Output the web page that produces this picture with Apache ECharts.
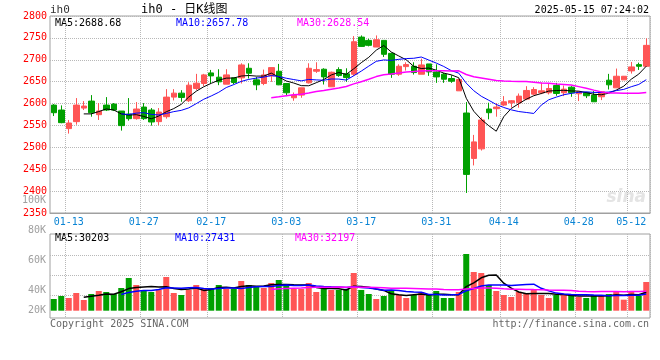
<!DOCTYPE html>
<html><head><meta charset="utf-8">
<script src="https://cdn.jsdelivr.net/npm/echarts@6/dist/echarts.min.js"></script>
<style>html,body{margin:0;padding:0;background:#fff}#c{width:660px;height:360px}</style>
</head><body><div id="c"></div>
<script>
const dates = ['01-09','01-10','01-13','01-14','01-15','01-16','01-17','01-20','01-21','01-22','01-23','01-24','01-27',
'02-05','02-06','02-07','02-10','02-11','02-12','02-13','02-14','02-17','02-18','02-19','02-20','02-21','02-24','02-25','02-26','02-27','02-28',
'03-03','03-04','03-05','03-06','03-07','03-10','03-11','03-12','03-13','03-14','03-17','03-18','03-19','03-20','03-21','03-24','03-25','03-26','03-27','03-28','03-31',
'04-01','04-02','04-03','04-07','04-08','04-09','04-10','04-11','04-14','04-15','04-16','04-17','04-18','04-21','04-22','04-23','04-24','04-25','04-28','04-29','04-30',
'05-06','05-07','05-08','05-09','05-12','05-13','05-14'];
const opens = [2596.5,2585.2,2542.8,2558.7,2589.7,2605.6,2574.6,2596.5,2598.8,2582.9,2576.1,2565.5,2592.0,
2585.2,2558.7,2570.0,2614.7,2623.8,2606.4,2634.4,2645.8,2670.0,2660.2,2644.3,2658.7,2658.7,2680.6,2654.1,2645.8,2663.2,2673.8,
2645.8,2613.2,2619.3,2647.3,2673.8,2678.4,2638.2,2677.6,2667.8,2667.0,2751.8,2744.3,2729.1,2744.3,2714.7,2667.0,2684.4,2685.2,2667.0,2690.5,2672.3,
2667.0,2657.2,2629.1,2578.4,2474.6,2496.5,2587.5,2588.2,2596.5,2601.9,2601.9,2610.2,2621.5,2624.6,2624.6,2641.2,2624.6,2637.4,2622.3,2625.3,2619.3,
2615.5,2653.4,2635.9,2654.1,2674.6,2688.9,2685.2];
const highs = [2598.8,2595.8,2562.5,2612.5,2605.6,2619.3,2601.0,2614.7,2601.1,2582.9,2612.5,2603.4,2601.0,
2589.7,2589.7,2632.9,2632.9,2630.6,2648.8,2667.8,2667.8,2676.8,2678.4,2678.4,2659.0,2692.0,2692.0,2660.9,2677.6,2682.1,2690.6,
2645.8,2625.3,2635.9,2692.0,2694.3,2680.6,2673.0,2682.9,2680.6,2754.1,2755.6,2748.0,2755.6,2744.3,2716.2,2689.7,2694.3,2694.3,2702.6,2690.5,2689.7,
2670.0,2664.7,2657.2,2603.4,2528.4,2568.5,2601.9,2601.1,2617.0,2608.0,2623.0,2639.7,2637.4,2648.0,2645.8,2647.3,2641.2,2639.7,2627.6,2626.8,2628.4,
2628.4,2667.8,2679.9,2663.0,2695.0,2693.5,2748.8];
const lows = [2571.5,2555.0,2531.4,2551.8,2585.2,2570.0,2562.5,2582.9,2582.9,2538.2,2561.0,2563.2,2562.5,
2549.6,2550.3,2565.5,2607.1,2604.1,2603.4,2630.6,2640.0,2645.8,2642.0,2644.3,2644.0,2645.8,2657.2,2630.6,2642.0,2649.6,2642.0,
2617.0,2606.4,2613.2,2645.8,2670.0,2643.5,2638.2,2661.0,2649.6,2663.0,2730.0,2730.6,2729.1,2706.4,2658.7,2663.2,2675.3,2666.2,2667.0,2663.2,2647.3,
2647.3,2647.3,2629.1,2395.8,2458.7,2492.7,2564.0,2570.0,2594.3,2591.0,2590.5,2607.9,2619.3,2621.5,2620.8,2617.8,2617.0,2615.5,2605.6,2612.5,2604.1,
2607.9,2632.1,2635.9,2654.0,2668.5,2676.8,2683.7];
const closes = [2579.1,2556.4,2555.6,2596.5,2594.3,2579.1,2582.9,2585.2,2585.2,2549.6,2565.5,2587.5,2565.5,
2557.9,2580.6,2614.7,2623.8,2614.0,2642.0,2646.5,2665.5,2663.2,2649.6,2665.5,2648.0,2688.2,2669.3,2642.8,2665.5,2682.1,2642.8,
2624.6,2619.3,2635.9,2680.6,2677.6,2660.9,2671.5,2664.0,2659.4,2741.2,2730.6,2733.0,2745.8,2712.5,2667.0,2685.2,2689.0,2670.8,2688.2,2672.3,2660.9,
2655.6,2651.1,2654.9,2438.2,2512.4,2562.5,2579.1,2592.0,2604.0,2606.4,2617.0,2629.9,2632.1,2629.1,2634.4,2623.1,2632.9,2624.6,2626.8,2617.8,2604.1,
2626.8,2642.8,2662.4,2662.4,2683.7,2685.2,2732.9];
const volumes = [19250,24180,20890,29120,17600,27470,32410,30760,27470,37340,53790,42280,34050,
30760,34050,55440,29120,25830,34050,42280,35700,37340,42280,35700,35700,48860,42280,38990,37340,45570,50500,
43920,35700,35700,45570,30760,35700,34050,34050,35700,62020,34050,27470,19250,24180,34050,25830,20890,25830,30760,25830,32410,
20890,20890,30760,93270,63660,62020,42280,32410,25830,22540,30760,27470,35700,25830,20890,25830,25830,25830,22540,20890,25830,
25830,27470,30760,18100,30760,24680,47210];
const xTickLabels = ['01-13','01-27','02-17','03-03','03-17','03-31','04-14','04-28','05-12'];
const priceTickLabels = [2350,2400,2450,2500,2550,2600,2650,2700,2750,2800];
const volTickLabels = ['20K','40K','60K','80K','100K'];
const maPeriods = [5,10,30];
const priceMaTexts = ['MA5:2688.68','MA10:2657.78','MA30:2628.54'];
const volMaTexts = ['MA5:30203','MA10:27431','MA30:32197'];
const headerTexts = ['ih0','ih0 - 日K线图','2025-05-15 07:24:02'];
const footerTexts = ['Copyright 2025 SINA.COM','http://finance.sina.com.cn'];

const UP = '#ff5555', DOWN = '#00a000';
const MA_COLORS = ['#000000','#0000ff','#ff00ff'];
const MONO = '"DejaVu Sans Mono", "Noto Sans CJK SC", monospace';
const GRIDC = '#b8b8b8';

function movingAvg(arr, n){
  return arr.map((v,i)=>{
    if(i < n-1) return null;
    let s = 0; for(let k=i-n+1;k<=i;k++) s += arr[k];
    return +(s/n).toFixed(2);
  });
}
const isLabel = (idx, val) => xTickLabels.indexOf(val) >= 0;
const dotted = {show:true, interval:isLabel, lineStyle:{color:GRIDC, type:'dotted', width:1}};

const L = 50, W = 600;
const chart = echarts.init(document.getElementById('c'), null, {renderer:'canvas'});

const volPx = 1645; // volume units per pixel
const volMin = -4.6*volPx, volStep = 20*volPx;

const option = {
  animation:false,
  backgroundColor:'#fff',
  grid:[
    {left:L, width:W, top:16, height:197, show:true, borderColor:'#a0a0a0', borderWidth:1, outerBoundsMode:'none'},
    {left:L, width:W, top:234, height:84, show:true, borderColor:'#a0a0a0', borderWidth:1, outerBoundsMode:'none'},
    {left:L, width:W, top:235.3, height:80, outerBoundsMode:'none'},
    {left:L, width:W, top:200.7, height:119.3, outerBoundsMode:'none'},
    {left:L, width:W, top:300, height:20, outerBoundsMode:'none'}
  ],
  xAxis:[
    {type:'category', gridIndex:0, data:dates, boundaryGap:true,
     axisLine:{show:true, lineStyle:{color:'#a0a0a0'}}, axisTick:{show:false},
     axisLabel:{interval:isLabel, color:'#0a84d4', fontFamily:MONO, fontSize:10, margin:4},
     splitLine:dotted},
    {type:'category', gridIndex:1, data:dates, boundaryGap:true,
     axisLine:{show:false}, axisTick:{show:false}, axisLabel:{show:false}, splitLine:dotted},
    {type:'category', gridIndex:2, data:dates, boundaryGap:true, show:false},
    {type:'category', gridIndex:3, data:dates, show:false},
    {type:'category', gridIndex:4, data:dates, show:false}
  ],
  yAxis:[
    {type:'value', gridIndex:0, min:priceTickLabels[0], max:priceTickLabels[priceTickLabels.length-1],
     interval:priceTickLabels[1]-priceTickLabels[0],
     axisLine:{show:false}, axisTick:{show:false},
     axisLabel:{color:'#ff0000', fontFamily:MONO, fontSize:10, margin:3, formatter:v=>String(v)},
     splitLine:{show:true, lineStyle:{color:GRIDC, type:'dotted'}}},
    {type:'value', gridIndex:1, min:0, max:1, show:false},
    {type:'value', gridIndex:2, min:volMin, max:volMin+4*volStep, interval:volStep,
     axisLine:{show:false}, axisTick:{show:false}, axisLabel:{show:false},
     splitLine:{show:true, showMinLine:false, showMaxLine:false, lineStyle:{color:GRIDC, type:'dotted'}}},
    {type:'value', gridIndex:3, min:20000, max:100000, interval:20000,
     axisLine:{show:false}, axisTick:{show:false}, splitLine:{show:false},
     axisLabel:{color:'#a0a0a0', fontFamily:MONO, fontSize:10, margin:4,
       formatter:v=> v===20000 ? '' : volTickLabels[Math.round((v-20000)/20000)]}},
    {type:'value', gridIndex:4, min:0, max:40000, interval:20000,
     axisLine:{show:false}, axisTick:{show:false}, splitLine:{show:false},
     axisLabel:{color:'#a0a0a0', fontFamily:MONO, fontSize:10, margin:4,
       formatter:v=> v===20000 ? volTickLabels[0] : ''}}
  ],
  series:[
    {type:'candlestick', xAxisIndex:0, yAxisIndex:0, barWidth:6,
     data:dates.map((d,i)=>[opens[i], closes[i], lows[i], highs[i]]),
     itemStyle:{color:UP, color0:DOWN, borderColor:UP, borderColor0:DOWN, borderWidth:1}},
    ...maPeriods.map((n,k)=>({type:'line', xAxisIndex:0, yAxisIndex:0, data:movingAvg(closes,n),
      showSymbol:false, symbol:'none', z:5, lineStyle:{color:MA_COLORS[k], width:k===2?1.5:1}})),
    {type:'bar', xAxisIndex:2, yAxisIndex:2, barWidth:6, data:volumes,
     itemStyle:{color:p=> closes[p.dataIndex]>=opens[p.dataIndex] ? UP : DOWN}},
    ...maPeriods.map((n,k)=>({type:'line', xAxisIndex:2, yAxisIndex:2, data:movingAvg(volumes,n),
      showSymbol:false, symbol:'none', z:5, lineStyle:{color:MA_COLORS[k], width:1.5}}))
  ],
  graphic:[
    {type:'text', x:50, y:10, style:{text:headerTexts[0], fill:'#333', font:'11px '+MONO, textAlign:'left', textVerticalAlign:'middle'}},
    {type:'text', x:141, y:10, style:{text:headerTexts[1], fill:'#000', font:'12px '+MONO, textAlign:'left', textVerticalAlign:'middle'}},
    {type:'text', x:649, y:10, style:{text:headerTexts[2], fill:'#000', font:'10px '+MONO, textAlign:'right', textVerticalAlign:'middle'}},
    {type:'text', x:55, y:23, style:{text:priceMaTexts[0], fill:MA_COLORS[0], font:'10px '+MONO, textAlign:'left', textVerticalAlign:'middle'}},
    {type:'text', x:176, y:23, style:{text:priceMaTexts[1], fill:MA_COLORS[1], font:'10px '+MONO, textAlign:'left', textVerticalAlign:'middle'}},
    {type:'text', x:297, y:23, style:{text:priceMaTexts[2], fill:MA_COLORS[2], font:'10px '+MONO, textAlign:'left', textVerticalAlign:'middle'}},
    {type:'text', x:55, y:238, style:{text:volMaTexts[0], fill:MA_COLORS[0], font:'10px '+MONO, textAlign:'left', textVerticalAlign:'middle'}},
    {type:'text', x:175, y:238, style:{text:volMaTexts[1], fill:MA_COLORS[1], font:'10px '+MONO, textAlign:'left', textVerticalAlign:'middle'}},
    {type:'text', x:295, y:238, style:{text:volMaTexts[2], fill:MA_COLORS[2], font:'10px '+MONO, textAlign:'left', textVerticalAlign:'middle'}},
    {type:'text', x:50, y:324, style:{text:footerTexts[0], fill:'#666', font:'10px '+MONO, textAlign:'left', textVerticalAlign:'middle'}},
    {type:'text', x:649, y:324, style:{text:footerTexts[1], fill:'#666', font:'10px '+MONO, textAlign:'right', textVerticalAlign:'middle'}},
    {type:'text', x:646, y:198, z:-1, style:{text:'sina', fill:'#e4e4e4', font:'italic bold 17px "DejaVu Sans"', textAlign:'right', textVerticalAlign:'middle'}}
  ]
};
chart.setOption(option);
</script>
</body></html>
